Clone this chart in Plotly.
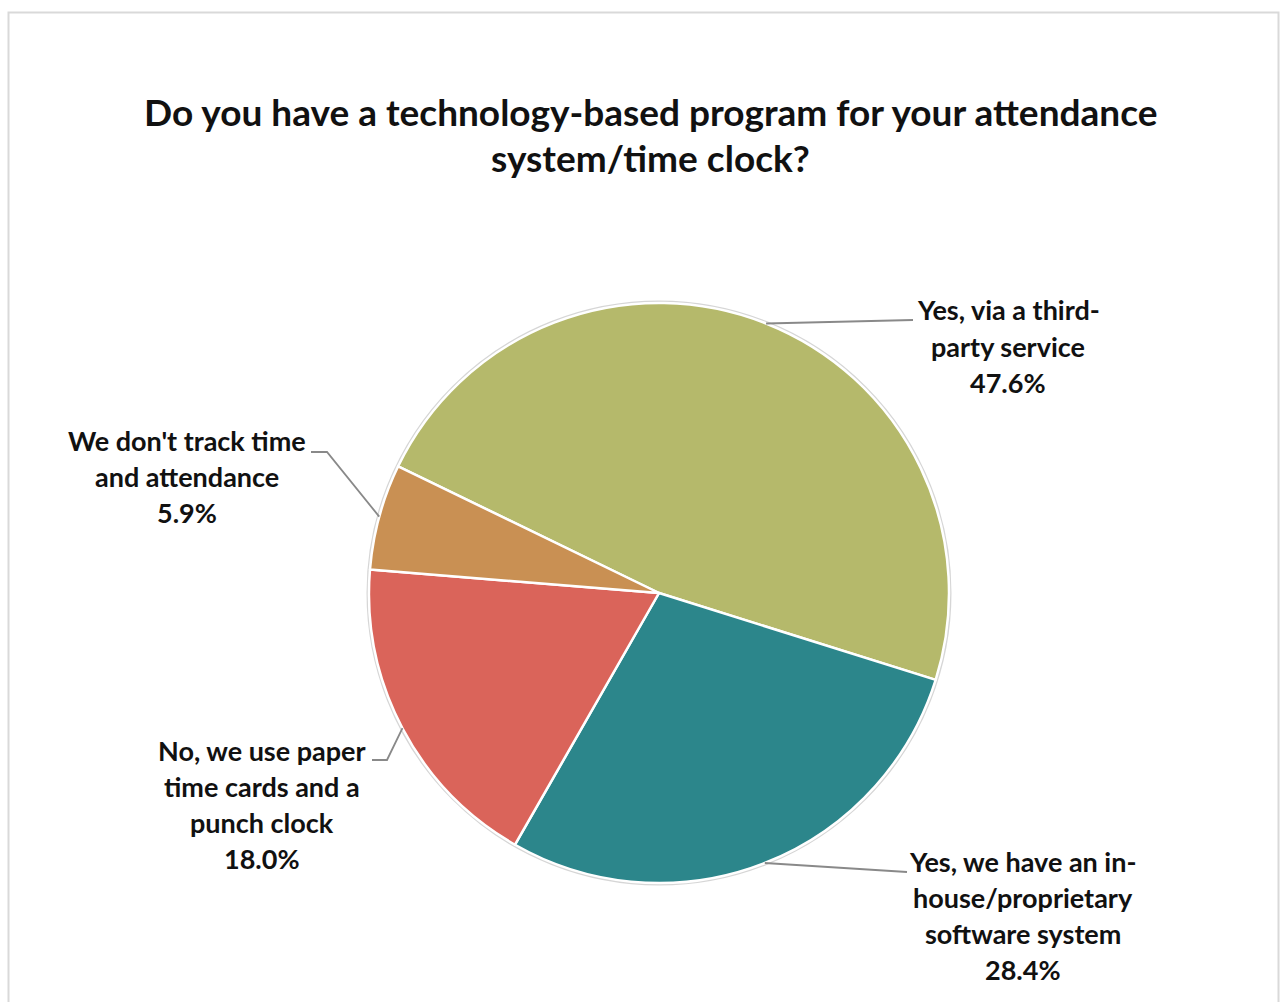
import math
import plotly.graph_objects as go

# Survey responses
categories = [
    "Yes, via a third-party service",
    "Yes, we have an in-house/proprietary software system",
    "No, we use paper time cards and a punch clock",
    "We don't track time and attendance",
]
label_lines = [
    ["Yes, via a third-", "party service"],
    ["Yes, we have an in-", "house/proprietary", "software system"],
    ["No, we use paper", "time cards and a", "punch clock"],
    ["We don't track time", "and attendance"],
]
shares = [47.6, 28.4, 18.0, 5.9]
colors = ["#B5B96B", "#2C868B", "#DA645A", "#C99053"]
title_lines = [
    "Do you have a technology-based program for your attendance",
    "system/time clock?",
]

W, H = 1280, 1002
CX, CY, R = 659, 593, 290
ROTATION = -64.1
FONT = "Lato"


def px(x):
    return x / W


def py(y):
    return 1 - y / H


fig = go.Figure(
    go.Pie(
        labels=categories,
        values=shares,
        marker=dict(colors=colors, line=dict(color="white", width=2.5)),
        sort=False,
        direction="clockwise",
        rotation=ROTATION,
        textinfo="none",
        hoverinfo="label+percent",
        showlegend=False,
        domain=dict(x=[px(CX - R), px(CX + R)], y=[py(CY + R), py(CY - R)]),
    )
)

shapes = []
annotations = []

# chart frame
shapes.append(dict(
    type="path", xref="paper", yref="paper",
    path=f"M {px(8.5)} {py(1010)} L {px(8.5)} {py(12.5)} L {px(1278.5)} {py(12.5)} L {px(1278.5)} {py(1010)}",
    line=dict(color="#D9D9D9", width=2),
))

# faint rim around the pie
shapes.append(dict(
    type="circle", xref="paper", yref="paper", layer="below",
    x0=px(CX - R - 1.5), x1=px(CX + R + 1.5), y0=py(CY + R + 1.5), y1=py(CY - R - 1.5),
    line=dict(color="#D6D6D6", width=2),
))

# label anchors: (center x, first line y, leader elbow, leader end)
label_pos = [
    (1008, 310, None, (913, 320)),
    (1023, 861, None, (907, 872)),
    (262, 750, (387, 760), (372, 760)),
    (187, 440, (327, 452), (311, 452)),
]
LINE_STEP = 36.3

total = sum(shares)
start = ROTATION
for i, v in enumerate(shares):
    span = 360 * v / total
    mid = math.radians(start + span / 2)
    start += span
    sx = CX + R * math.sin(mid)
    sy = CY - R * math.cos(mid)
    lx, ly, elbow, end = label_pos[i]
    pts = [(sx, sy)] + ([elbow] if elbow else []) + [end]
    path = "M " + " L ".join(f"{px(x)} {py(y)}" for x, y in pts)
    shapes.append(dict(type="path", xref="paper", yref="paper", path=path,
                       line=dict(color="#898989", width=1.8)))
    lines = label_lines[i] + [f"{v:.1f}%"]
    for k, t in enumerate(lines):
        annotations.append(dict(
            x=px(lx), y=py(ly + k * LINE_STEP), xref="paper", yref="paper",
            text=t, showarrow=False, xanchor="center", yanchor="middle",
            font=dict(family=FONT, size=27, color="#111111", weight="bold"),
        ))

for k, t in enumerate(title_lines):
    annotations.append(dict(
        x=px(650.5), y=py(111 + k * 47), xref="paper", yref="paper",
        text=t, showarrow=False, xanchor="center", yanchor="middle",
        font=dict(family=FONT, size=37, color="#111111", weight="bold"),
    ))

fig.update_layout(
    width=W, height=H,
    margin=dict(l=0, r=0, t=0, b=0),
    paper_bgcolor="white", plot_bgcolor="white",
    shapes=shapes, annotations=annotations,
)

fig.write_html("out.html", config={"displayModeBar": False})
